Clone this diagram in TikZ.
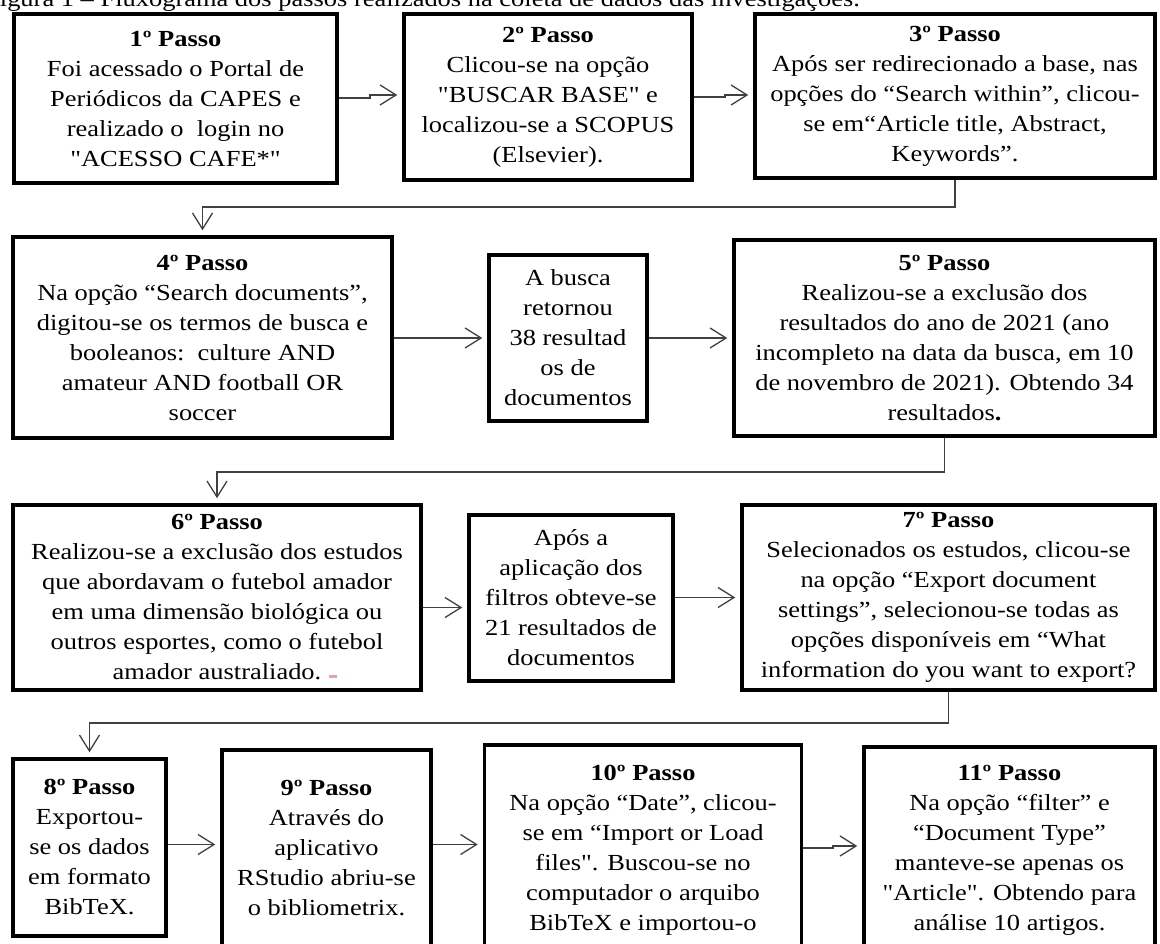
\documentclass[tikz,border=0pt]{standalone}
\usepackage{fontspec}
\setmainfont{Liberation Serif}[FakeStretch=1.15, Ligatures=TeXOff]
\usetikzlibrary{arrows.meta}
\definecolor{pinkmark}{RGB}{240,160,160}
\begin{document}
\begin{tikzpicture}[x=1pt,y=-1pt,
  font=\fontsize{23}{30}\selectfont,
  box/.style={draw, line width=3.5pt, align=center, inner sep=0pt},
  conn/.style={draw=black!75, line width=1.3pt, -{Straight Barb[length=16pt,width=20pt]}, shorten >=5pt}]
\useasboundingbox (0,0) rectangle (1160,944);
\clip (0,0) rectangle (1160,944);

\node[anchor=base west, inner sep=0pt] (title) at (-15,7) {Figura 1 – Fluxograma dos passos realizados na coleta de dados das investigações.};

% Row 1
\node[box, minimum width=323pt, minimum height=169pt] (b1) at (175.5,98.5)
 {\textbf{1º Passo}\\Foi acessado o Portal de\\Periódicos da CAPES e\\realizado o\ \ login no\\"ACESSO CAFE*"};
\node[box, minimum width=288pt, minimum height=166pt] (b2) at (548,97)
 {\textbf{2º Passo}\\Clicou-se na opção\\"BUSCAR BASE" e\\localizou-se a SCOPUS\\(Elsevier).};
\node[box, minimum width=400pt, minimum height=164pt] (b3) at (955,96)
 {\textbf{3º Passo}\\Após ser redirecionado a base, nas\\opções do “Search within”, clicou-\\se em“Article title, Abstract,\\Keywords”.};

% Row 2
\node[box, minimum width=379pt, minimum height=201pt] (b4) at (202.5,337.5)
 {\textbf{4º Passo}\\Na opção “Search documents”,\\digitou-se os termos de busca e\\booleanos:\ \ culture AND\\amateur AND football OR\\soccer};
\node[box, minimum width=158pt, minimum height=166pt] (busca) at (568,338)
 {A busca\\retornou\\38 resultad\\os de\\documentos};
\node[box, minimum width=421pt, minimum height=196pt] (b5) at (944.5,338)
 {\textbf{5º Passo}\\Realizou-se a exclusão dos\\resultados do ano de 2021 (ano\\incompleto na data da busca, em 10\\de novembro de 2021). Obtendo 34\\resultados\textbf{.}};

% Row 3
\node[box, minimum width=408pt, minimum height=185pt] (b6) at (217,597.5)
 {\textbf{6º Passo}\\Realizou-se a exclusão dos estudos\\que abordavam o futebol amador\\em uma dimensão biológica ou\\outros esportes, como o futebol\\amador australiado.};
\node[box, minimum width=204pt, minimum height=166pt] (apos) at (571,598)
 {Após a\\aplicação dos\\filtros obteve-se\\21 resultados de\\documentos};
\node[box, minimum width=413pt, minimum height=185pt] (b7) at (948.5,597.5)
 {\textbf{7º Passo}\\Selecionados os estudos, clicou-se\\na opção “Export document\\settings”, selecionou-se todas as\\opções disponíveis em “What\\information do you want to export?};

% Row 4
\node[box, minimum width=153pt, minimum height=177pt] (b8) at (89.5,847.5)
 {\textbf{8º Passo}\\Exportou-\\se os dados\\em formato\\BibTeX.};
\node[box, minimum width=209pt, minimum height=197pt] (b9) at (326.5,848.5)
 {\textbf{9º Passo}\\Através do\\aplicativo\\RStudio abriu-se\\o bibliometrix.};
\node[box, minimum width=317pt, minimum height=210pt] (b10) at (643,850)
 {\textbf{10º Passo}\\Na opção “Date”, clicou-\\se em “Import or Load\\files". Buscou-se no\\computador o arquibo\\BibTeX e importou-o};
\node[box, minimum width=291pt, minimum height=206pt] (b11) at (1009.5,850)
 {\textbf{11º Passo}\\Na opção “filter” e\\“Document Type”\\manteve-se apenas os\\"Article". Obtendo para\\análise 10 artigos.};

\fill[pinkmark] (329,675) rectangle (337,678);

% Horizontal connectors
\coordinate (j1a) at (370,98);
\coordinate (j1b) at (370,95);
\draw[conn] (b1.east |- j1a) -- (j1a) -- (j1b) -- (b2.west |- j1b);
\coordinate (j2a) at (725,97);
\coordinate (j2b) at (725,95);
\draw[conn] (b2.east |- j2a) -- (j2a) -- (j2b) -- (b3.west |- j2b);
\draw[conn] (b4.east |- busca.west) -- (busca.west);
\draw[conn] (busca.east) -- (b5.west |- busca.east);
\draw[conn] ([yshift=-10pt]b6.east) -- ([yshift=-10pt]b6.east -| apos.west);
\draw[conn] (apos.east |- b7.west) -- (b7.west);
\draw[conn] ([yshift=3pt]b8.east) -- ([yshift=3pt]b8.east -| b9.west);
\draw[conn] ([yshift=4pt]b9.east) -- ([yshift=4pt]b9.east -| b10.west);
\coordinate (j10a) at (833,848);
\coordinate (j10b) at (833,846);
\draw[conn] (b10.east |- j10a) -- (j10a) -- (j10b) -- (b11.west |- j10b);

% Elbow connectors between rows
\coordinate (e3) at (b3.south |- 0,207);
\coordinate (e5) at (b5.south |- 0,472);
\coordinate (e7) at (b7.south |- 0,723);
\draw[conn] (b3.south) -- (e3) -| (b4.north);
\draw[conn] (b5.south) -- (e5) -| (b6.north);
\draw[conn] (b7.south) -- (e7) -| (b8.north);
\end{tikzpicture}
\end{document}
